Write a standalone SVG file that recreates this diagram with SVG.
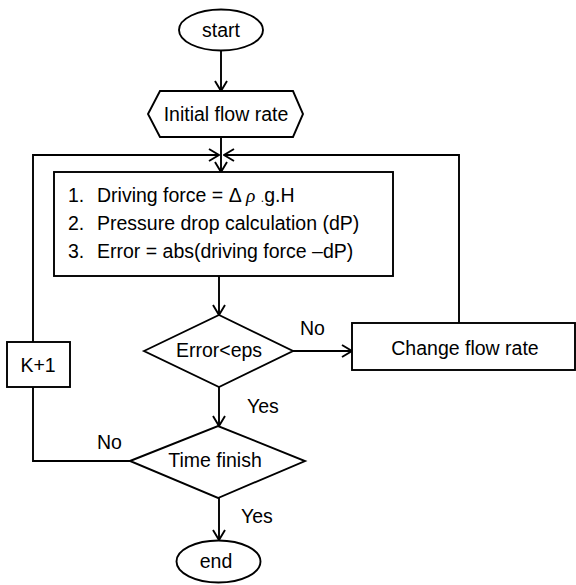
<svg xmlns="http://www.w3.org/2000/svg" width="576" height="585" viewBox="0 0 576 585">
<style>
.s{fill:#fff;stroke:#000;stroke-width:1.9}
.c{fill:none;stroke:#000;stroke-width:1.9}
text{font-family:"Liberation Sans",Arial,sans-serif;font-size:19.5px;fill:#000}
.m{text-anchor:middle}
</style>
<defs>
<marker id="a" viewBox="0 0 12 14" refX="11" refY="7" markerWidth="12" markerHeight="14" markerUnits="userSpaceOnUse" orient="auto">
<path d="M1,1 L11,7 L1,13" fill="none" stroke="#000" stroke-width="1.9"/>
</marker>
</defs>
<g id="connectors">
<path class="c" d="M221,51 V91" marker-end="url(#a)"/>
<path class="c" d="M221,137 V172" marker-end="url(#a)"/>
<path class="c" d="M33,342 V155 H219" marker-end="url(#a)"/>
<path class="c" d="M459,323 V155 H224" marker-end="url(#a)"/>
<path class="c" d="M219,276 V315" marker-end="url(#a)"/>
<path class="c" d="M293,351 H352" marker-end="url(#a)"/>
<path class="c" d="M219,387 V426" marker-end="url(#a)"/>
<path class="c" d="M130,461 H33 V387"/>
<path class="c" d="M219,498 V540" marker-end="url(#a)"/>
<text x="300" y="335">No</text>
<text x="247" y="413">Yes</text>
<text x="97" y="449">No</text>
<text x="241" y="523">Yes</text>
</g>
<g id="start">
<ellipse class="s" cx="221" cy="30" rx="42" ry="20.5"/>
<text class="m" x="221" y="37">start</text>
</g>
<g id="init">
<polygon class="s" points="148,114 160,91 293,91 303,114 293,137 160,137"/>
<text class="m" x="226" y="121">Initial flow rate</text>
</g>
<g id="process">
<rect class="s" x="54" y="172" width="339" height="104"/>
<text x="68" y="202">1.</text>
<text x="97" y="202">Driving force = Δ <tspan font-style="italic" font-family="Liberation Serif,serif">ρ</tspan> <tspan font-size="12">.</tspan>g.H</text>
<text x="68" y="230">2.</text>
<text x="97" y="230">Pressure drop calculation (dP)</text>
<text x="68" y="258">3.</text>
<text x="97" y="258">Error = abs(driving force –dP)</text>
</g>
<g id="check">
<polygon class="s" points="144,351 219,315 293,351 219,387"/>
<text class="m" x="219" y="357">Error&lt;eps</text>
</g>
<g id="change">
<rect class="s" x="352" y="323" width="223" height="47"/>
<text class="m" x="465" y="355">Change flow rate</text>
</g>
<g id="k1">
<rect class="s" x="7" y="342" width="63" height="45"/>
<text class="m" x="38" y="372">K+1</text>
</g>
<g id="time">
<polygon class="s" points="130,461 218,426 305,461 218,498"/>
<text class="m" x="215" y="467">Time finish</text>
</g>
<g id="end">
<ellipse class="s" cx="218.5" cy="561.5" rx="42" ry="21"/>
<text class="m" x="216" y="568">end</text>
</g>
</svg>
